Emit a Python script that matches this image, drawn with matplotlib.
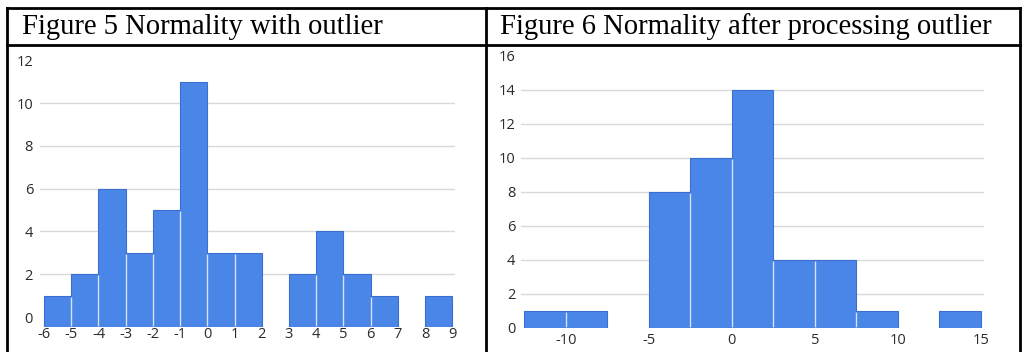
import matplotlib.pyplot as plt
import numpy as np
from matplotlib.lines import Line2D


# ==================================================
# DATA
# ==================================================

# figure 5: residuals with the outlier, bin width 1
BINS_5 = np.arange(-6, 10, 1)
COUNTS_5 = [1, 2, 6, 3, 5, 11, 3, 3, 0, 2, 4, 2, 1, 0, 1]
XTICKS_5 = list(range(-6, 10))
YTICKS_5 = [0, 2, 4, 6, 8, 10, 12]

# figure 6: residuals after processing the outlier, bin width 2.5
BINS_6 = np.arange(-12.5, 15.1, 2.5)
COUNTS_6 = [1, 1, 0, 8, 10, 14, 4, 4, 1, 0, 1]
XTICKS_6 = [-10, -5, 0, 5, 10, 15]
YTICKS_6 = [0, 2, 4, 6, 8, 10, 12, 14, 16]

TITLE_5 = "Figure 5 Normality with outlier"
TITLE_6 = "Figure 6 Normality after processing outlier"


# ==================================================
# STYLE
# ==================================================

plt.rcParams["axes.unicode_minus"] = False

W, H = 1022, 352
BAR = "#4a86e8"
BAR_EDGE = "#3a6fd0"
SEPARATOR = "#d6e2f8"
GRID = "#d9d9d9"
TICK = "#2b2b2b"
TICK_FONT = ["Open Sans", "DejaVu Sans"]
TITLE_FONT = ["Liberation Serif", "DejaVu Serif"]


def fig_box(x0, y0, x1, y1):
    """Pixel box (top-left origin) -> figure fraction rect."""
    return [x0 / W, 1 - y1 / H, (x1 - x0) / W, (y1 - y0) / H]


def fig_line(fig, xs, ys, lw=2.0, color="black"):
    fig.add_artist(Line2D(
        [x / W for x in xs],
        [1 - y / H for y in ys],
        color=color,
        linewidth=lw,
        transform=fig.transFigure
    ))


def draw_hist(ax, edges, counts, xticks, yticks, xlim, ylim, floor=0.0):
    counts = np.asarray(counts, dtype=float)
    width = edges[1] - edges[0]
    left = edges[:-1]
    shown = counts > 0

    for y in yticks[1:-1]:
        ax.axhline(y, color=GRID, linewidth=1, zorder=0)

    ax.bar(
        left[shown],
        counts[shown] - floor,
        bottom=floor,
        width=width,
        align="edge",
        color=BAR,
        edgecolor=BAR_EDGE,
        linewidth=0.8,
        zorder=2
    )

    # light divider between neighbouring bars
    for i in range(1, len(counts)):
        top = min(counts[i - 1], counts[i])
        if top > 0:
            ax.vlines(edges[i], floor + 0.05, top - 0.05,
                      color=SEPARATOR, linewidth=1.0, zorder=3)

    ax.set_xlim(*xlim)
    ax.set_ylim(*ylim)
    ax.set_xticks(xticks)
    ax.set_yticks(yticks)
    ax.tick_params(length=0, colors=TICK, labelsize=10.5)
    for lab in ax.get_xticklabels() + ax.get_yticklabels():
        lab.set_family(TICK_FONT)
    for s in ax.spines.values():
        s.set_visible(False)


# ==================================================
# FIGURE
# ==================================================

fig = plt.figure(figsize=(W / 100, H / 100), dpi=100)
fig.patch.set_facecolor("white")

# left panel
ax5 = fig.add_axes(fig_box(40, 60.2, 455, 326.7))
draw_hist(
    ax5, BINS_5, COUNTS_5, XTICKS_5, YTICKS_5,
    xlim=(-6.147, 9.099), ylim=(-0.45, 12), floor=-0.45
)
ax5.tick_params(axis="x", pad=0.5)
ax5.tick_params(axis="y", pad=5)

# right panel
ax6 = fig.add_axes(fig_box(521, 55.7, 984.3, 327.7))
draw_hist(
    ax6, BINS_6, COUNTS_6, XTICKS_6, YTICKS_6,
    xlim=(-12.7, 15.2), ylim=(0, 16)
)
ax6.tick_params(axis="x", pad=4)
ax6.tick_params(axis="y", pad=4)

# table frame around the two figures
fig_line(fig, [7, 1020], [8, 8])
fig_line(fig, [7, 1020], [44.5, 44.5])
fig_line(fig, [7, 7], [8, 352])
fig_line(fig, [486, 486], [8, 352])
fig_line(fig, [1020, 1020], [8, 352])

fig.text(22 / W, 1 - 27 / H, TITLE_5, family=TITLE_FONT,
         fontsize=20.6, va="center", ha="left", color="black")
fig.text(500 / W, 1 - 27 / H, TITLE_6, family=TITLE_FONT,
         fontsize=20.6, va="center", ha="left", color="black")

fig.savefig("out.png", dpi=100)
plt.close(fig)
